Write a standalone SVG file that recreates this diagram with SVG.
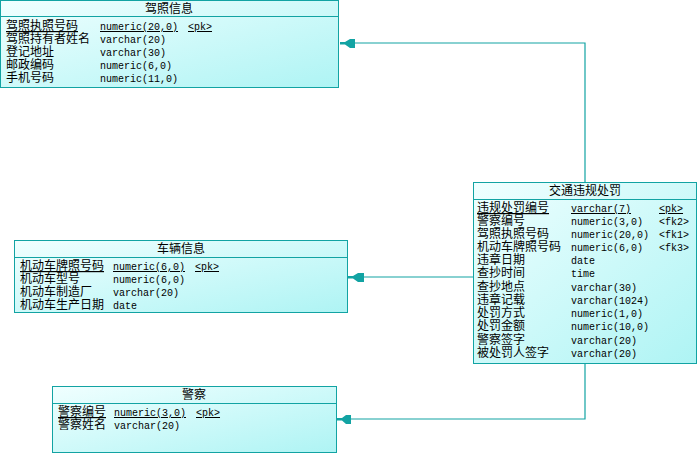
<svg xmlns="http://www.w3.org/2000/svg" width="699" height="453" viewBox="0 0 699 453">
<defs>
<linearGradient id="g" x1="0" y1="0" x2="1" y2="1">
<stop offset="0" stop-color="#f0ffff"/>
<stop offset="1" stop-color="#aef4f4"/>
</linearGradient>
<style>
.box{fill:url(#g);stroke:#12a3a3;stroke-width:1}
.sep{stroke:#12a3a3;stroke-width:1}
.t{font-family:"Liberation Sans","Noto Sans CJK SC",sans-serif;font-size:12px;fill:#000}
.h{text-anchor:middle}
.m{font-family:"Liberation Mono","DejaVu Sans Mono",monospace;font-size:10px;fill:#000}
.u{text-decoration:underline}
.c{fill:none;stroke:#12a3a3;stroke-width:1.2}
.a{fill:#12a3a3;stroke:none}
</style>
</defs>
<g id="connectors">
<polyline class="c" points="585,182 585,43 340,43"/>
<polygon class="a" points="340,42 345,42 350,39 355,39 355,48 350,48 345,44.5 340,44.5"/>
<polyline class="c" points="473,277 348,277"/>
<polygon class="a" points="348,276 353,276 358,273 364,273 364,282 358,282 353,278.5 348,278.5"/>
<polyline class="c" points="585,364 585,419 337,419"/>
<polygon class="a" points="337,418 342,418 346,415 351,415 351,424 346,424 342,420.5 337,420.5"/>
</g>
<g id="jiazhao">
<rect class="box" x="0.5" y="0.5" width="338" height="87"/>
<line class="sep" x1="0.5" y1="16.5" x2="338.5" y2="16.5"/>
<text class="t h" x="169" y="12.5">驾照信息</text>
<text class="t u" x="6" y="30">驾照执照号码</text><text class="m u" x="100" y="30">numeric(20,0)</text><text class="m u" x="188" y="30">&lt;pk&gt;</text>
<text class="t" x="6" y="43">驾照持有者姓名</text><text class="m" x="100" y="43">varchar(20)</text>
<text class="t" x="6" y="56">登记地址</text><text class="m" x="100" y="56">varchar(30)</text>
<text class="t" x="6" y="69">邮政编码</text><text class="m" x="100" y="69">numeric(6,0)</text>
<text class="t" x="6" y="82">手机号码</text><text class="m" x="100" y="82">numeric(11,0)</text>
</g>
<g id="cheliang">
<rect class="box" x="14.5" y="240.5" width="333" height="72"/>
<line class="sep" x1="14.5" y1="257.5" x2="347.5" y2="257.5"/>
<text class="t h" x="181" y="253">车辆信息</text>
<text class="t u" x="20" y="270">机动车牌照号码</text><text class="m u" x="113" y="270">numeric(6,0)</text><text class="m u" x="195" y="270">&lt;pk&gt;</text>
<text class="t" x="20" y="283">机动车型号</text><text class="m" x="113" y="283">numeric(6,0)</text>
<text class="t" x="20" y="296">机动车制造厂</text><text class="m" x="113" y="296">varchar(20)</text>
<text class="t" x="20" y="309">机动车生产日期</text><text class="m" x="113" y="309">date</text>
</g>
<g id="jingcha">
<rect class="box" x="52.5" y="386.5" width="284" height="66"/>
<line class="sep" x1="52.5" y1="403.5" x2="336.5" y2="403.5"/>
<text class="t h" x="194" y="399">警察</text>
<text class="t u" x="58" y="416">警察编号</text><text class="m u" x="114" y="416">numeric(3,0)</text><text class="m u" x="196" y="416">&lt;pk&gt;</text>
<text class="t" x="58" y="429">警察姓名</text><text class="m" x="114" y="429">varchar(20)</text>
</g>
<g id="chufa">
<rect class="box" x="473.5" y="182.5" width="223" height="181"/>
<line class="sep" x1="473.5" y1="199.5" x2="696.5" y2="199.5"/>
<text class="t h" x="585" y="195">交通违规处罚</text>
<text class="t u" x="477" y="212">违规处罚编号</text><text class="m u" x="571" y="212">varchar(7)</text><text class="m u" x="659" y="212">&lt;pk&gt;</text>
<text class="t" x="477" y="225">警察编号</text><text class="m" x="571" y="225">numeric(3,0)</text><text class="m" x="659" y="225">&lt;fk2&gt;</text>
<text class="t" x="477" y="238">驾照执照号码</text><text class="m" x="571" y="238">numeric(20,0)</text><text class="m" x="659" y="238">&lt;fk1&gt;</text>
<text class="t" x="477" y="251">机动车牌照号码</text><text class="m" x="571" y="251">numeric(6,0)</text><text class="m" x="659" y="251">&lt;fk3&gt;</text>
<text class="t" x="477" y="264">违章日期</text><text class="m" x="571" y="264">date</text>
<text class="t" x="477" y="277">查抄时间</text><text class="m" x="571" y="277">time</text>
<text class="t" x="477" y="291">查抄地点</text><text class="m" x="571" y="291">varchar(30)</text>
<text class="t" x="477" y="304">违章记载</text><text class="m" x="571" y="304">varchar(1024)</text>
<text class="t" x="477" y="317">处罚方式</text><text class="m" x="571" y="317">numeric(1,0)</text>
<text class="t" x="477" y="330">处罚金额</text><text class="m" x="571" y="330">numeric(10,0)</text>
<text class="t" x="477" y="344">警察签字</text><text class="m" x="571" y="344">varchar(20)</text>
<text class="t" x="477" y="357">被处罚人签字</text><text class="m" x="571" y="357">varchar(20)</text>
</g>
</svg>
